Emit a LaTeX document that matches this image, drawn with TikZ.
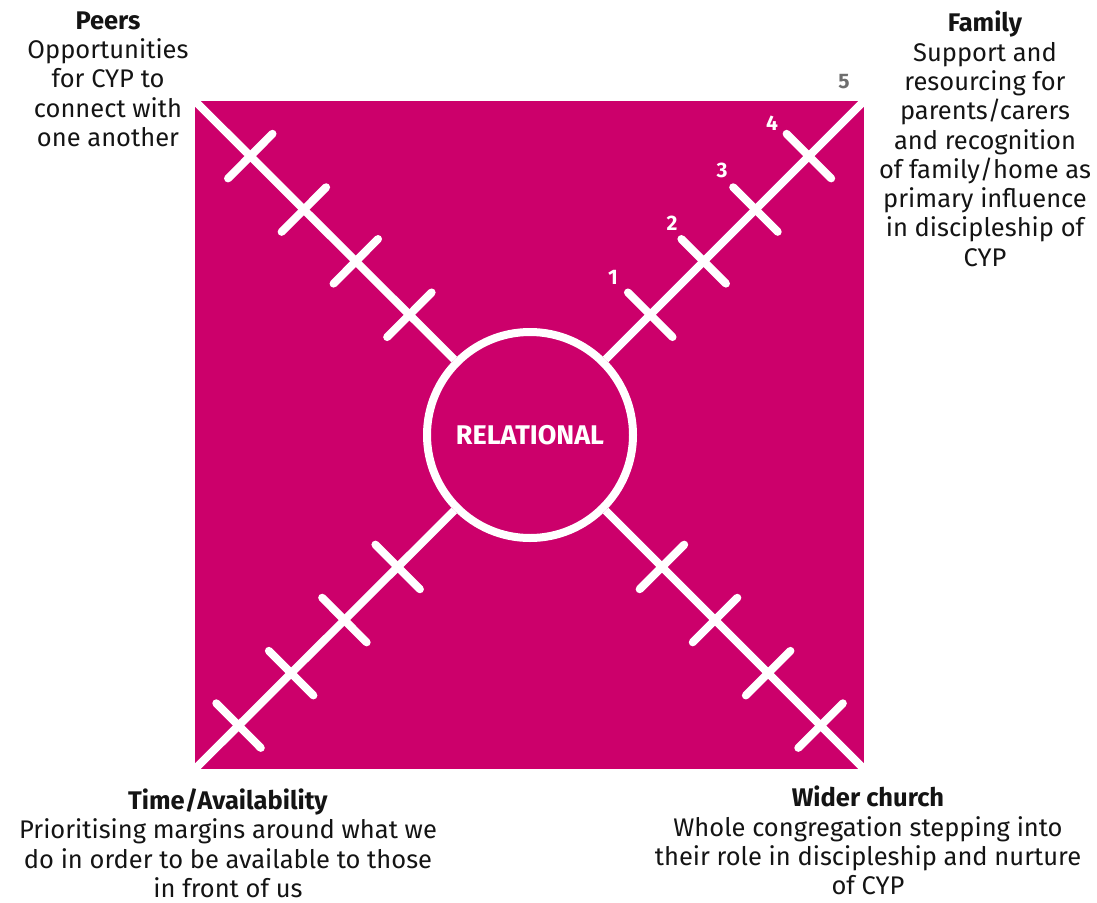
\documentclass[tikz,border=0pt]{standalone}
\usepackage{fontspec}
\setmainfont{Fira Sans}
\usetikzlibrary{calc}
\definecolor{mag}{RGB}{204,0,107}
\definecolor{txt}{RGB}{20,20,20}
\definecolor{numgray}{RGB}{110,110,110}
\tikzset{
  diag/.style={white, line width=8pt},
  tick/.style={white, line width=8pt, line cap=round},
  lbl/.style={align=center, anchor=north, text=txt, font=\fontsize{25.5}{29.3}\selectfont, inner sep=0pt},
  num/.style={text=white, font=\bfseries\fontsize{21}{21}\selectfont, inner sep=0pt},
}
\begin{document}
\begin{tikzpicture}[x=1pt,y=-1pt]
\path[use as bounding box] (0,0) rectangle (1097,902);
\fill[mag] (195,101) rectangle (864,769);
\coordinate (nw) at (195,101);
\coordinate (ne) at (864,101);
\coordinate (sw) at (195,769);
\coordinate (se) at (864,769);
\node[circle, draw=white, line width=8pt, minimum size=206pt, inner sep=0pt, text=white, font=\bfseries\fontsize{27}{27}\selectfont] (c) at (530,435) {RELATIONAL};
\begin{scope}
\clip (195,101) rectangle (864,769);
\foreach \k in {nw,ne,sw,se} \draw[diag] (c) -- (\k);
\foreach \k in {nw,ne} {
  \foreach \t in {0.36,0.52,0.675,0.835} {
    \coordinate (p) at ($(c)!\t!(\k)$);
    \draw[tick] ($(p)!31.5pt!90:(\k)$) -- ($(p)!31.5pt!-90:(\k)$);
  }
}
\foreach \k in {sw,se} {
  \foreach \t in {0.395,0.554,0.713,0.870} {
    \coordinate (p) at ($(c)!\t!(\k)$);
    \draw[tick] ($(p)!31.5pt!90:(\k)$) -- ($(p)!31.5pt!-90:(\k)$);
  }
}
\end{scope}
\node[num] (n1) at (613,277) {1};
\node[num] (n2) at (672,223) {2};
\node[num] (n3) at (722,170) {3};
\node[num] (n4) at (772,123) {4};
\node[num, text=numgray] (n5) at (844,82) {5};
\node[lbl] (peers) at (108,11.5) {\textbf{Peers}\\Opportunities\\for CYP to\\connect with\\one another};
\node[lbl] (family) at (985,11) {\textbf{Family}\\Support and\\resourcing for\\parents/carers\\and recognition\\of family/home as\\primary influence\\in discipleship of\\CYP};
\node[lbl] (time) at (228,788.5) {\textbf{Time/Availability}\\Prioritising margins around what we\\do in order to be available to those\\in front of us};
\node[lbl] (wider) at (868,786) {\textbf{Wider church}\\Whole congregation stepping into\\their role in discipleship and nurture\\of CYP};
\end{tikzpicture}
\end{document}
